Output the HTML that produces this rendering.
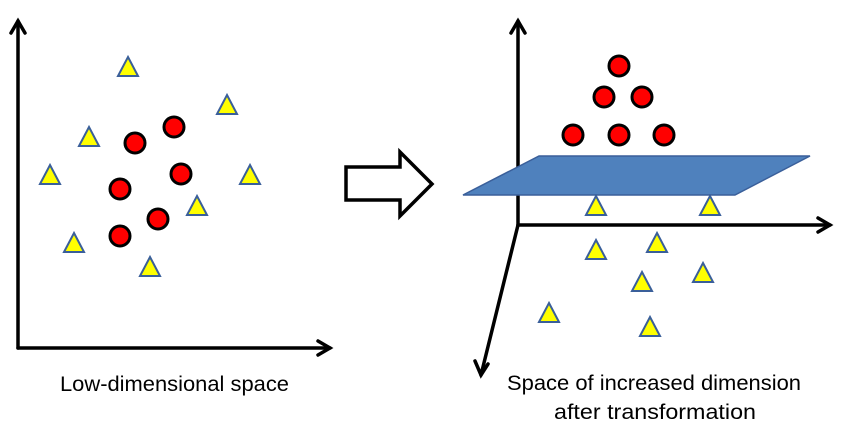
<!DOCTYPE html>
<html><head><style>body{margin:0;background:#fff}svg{display:block}</style></head><body>
<svg width="850" height="433" viewBox="0 0 850 433" xmlns="http://www.w3.org/2000/svg">
<defs>
<g id="t"><polygon points="0,-10 10,9 -10,9" fill="#ffff00" stroke="#3a5f9a" stroke-width="2" stroke-linejoin="miter"/></g>
<g id="c"><circle r="10" fill="#ff0000" stroke="#000" stroke-width="3"/></g>
</defs>
<g stroke="#000" stroke-width="3.5" fill="none" stroke-linecap="round" stroke-linejoin="miter">
<polyline points="18,348 18,21"/><polyline points="11,33 18,21 25,33"/>
<polyline points="18,348 330,348"/><polyline points="318,341 330,348 318,355"/>
<polyline points="518,225 518,21"/><polyline points="511,33 518,21 525,33"/>
<polyline points="518,225 830,225"/><polyline points="818,218 830,225 818,232"/>
<polyline points="518,225 481,375"/><polyline points="475,361 481,375 488,364"/>
</g>
<polygon points="346,167 400,167 400,152 432,184 400,216 400,200 346,200" fill="#fff" stroke="#000" stroke-width="3.5"/>
<polygon points="463,195 539,156 810,156 735,195" fill="#4f81bd" stroke="#3a5f9a" stroke-width="1.5"/>
<use href="#t" x="128" y="67"/><use href="#t" x="227" y="105"/><use href="#t" x="89" y="137"/><use href="#t" x="50" y="175"/><use href="#t" x="250" y="175"/><use href="#t" x="197" y="206"/><use href="#t" x="74" y="243"/><use href="#t" x="150" y="267"/>
<use href="#c" x="174" y="127"/><use href="#c" x="135" y="143"/><use href="#c" x="181" y="174"/><use href="#c" x="120" y="189"/><use href="#c" x="158" y="219"/><use href="#c" x="120" y="236"/>
<use href="#c" x="619" y="66"/><use href="#c" x="604" y="97"/><use href="#c" x="642" y="97"/><use href="#c" x="573" y="135"/><use href="#c" x="619" y="135"/><use href="#c" x="664" y="135"/>
<use href="#t" x="596" y="206"/><use href="#t" x="710" y="206"/><use href="#t" x="596" y="250"/><use href="#t" x="657" y="243"/><use href="#t" x="642" y="282"/><use href="#t" x="703" y="273"/><use href="#t" x="549" y="313"/><use href="#t" x="650" y="327"/>
<g font-family="Liberation Sans, sans-serif" font-size="21" fill="#000">
<text x="60" y="391" textLength="229" lengthAdjust="spacingAndGlyphs">Low-dimensional space</text>
<text x="507" y="390" textLength="294" lengthAdjust="spacingAndGlyphs">Space of increased dimension</text>
<text x="554" y="419" textLength="202" lengthAdjust="spacingAndGlyphs">after transformation</text>
</g>
</svg>
</body></html>
